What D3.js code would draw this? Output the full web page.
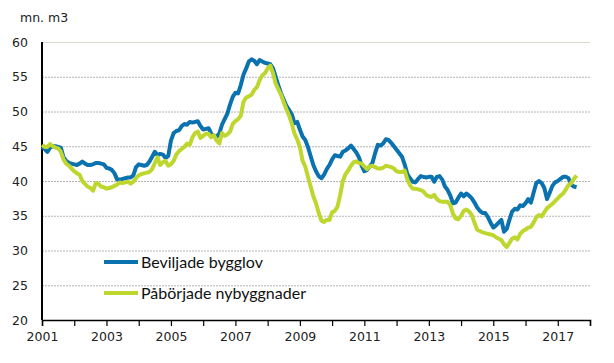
<!DOCTYPE html>
<html>
<head>
<meta charset="utf-8">
<script src="https://cdn.jsdelivr.net/npm/d3@7"></script>
<style>
  body { margin: 0; background: #fff; }
  svg { display: block; }
</style>
</head>
<body>
<script>
// Monthly series, starting January 2001 (mn. m3)
var startYear = 2001;
var beviljade = [
  44.9, 44.6, 44.2, 44.8, 45.0, 45.0, 44.9, 44.8, 43.4, 42.9, 42.6, 42.5,
  42.4, 42.3, 42.5, 42.8, 42.5, 42.3, 42.3, 42.4, 42.6, 42.6, 42.5, 42.4,
  41.9, 41.8, 41.6, 41.1, 40.2, 40.2, 40.3, 40.4, 40.5, 40.5, 40.8, 42.0,
  42.4, 42.3, 42.2, 42.3, 42.8, 43.5, 44.2, 43.7, 43.9, 43.8, 43.3, 43.6,
  45.8, 46.9, 47.2, 47.3, 47.9, 48.2, 48.1, 48.5, 48.4, 48.5, 48.6, 47.9,
  47.4, 47.5, 47.6, 46.8, 46.5, 46.4, 46.8, 48.1, 48.9, 49.7, 51.0, 52.1,
  52.7, 52.6, 53.8, 55.3, 56.2, 57.2, 57.5, 57.3, 56.8, 57.4, 57.2, 57.0,
  56.9, 56.8, 56.2, 55.0, 53.7, 52.6, 51.7, 50.8, 50.2, 49.6, 48.3, 48.5,
  47.4, 46.4, 45.9, 44.9, 43.6, 42.3, 41.4, 40.7, 40.4, 40.9, 41.7, 42.3,
  43.1, 43.7, 43.6, 43.5, 44.2, 44.4, 44.7, 45.1, 44.6, 44.1, 43.4, 42.2,
  41.4, 41.6, 42.1, 42.6, 44.0, 45.2, 45.1, 45.4, 46.0, 45.9, 45.5, 45.0,
  44.5, 44.0, 43.5, 42.4, 41.0, 40.4, 39.9, 39.8, 40.3, 40.7, 40.6, 40.5,
  40.6, 40.6, 39.9, 40.6, 40.7, 40.2, 39.2, 38.7, 37.9, 36.8, 36.9, 37.6,
  38.2, 37.8, 38.2, 37.9, 37.5, 36.9, 36.2, 35.7, 35.4, 35.4, 34.8, 34.0,
  33.3, 33.6, 34.0, 34.4, 32.7, 33.1, 34.4, 35.6, 36.0, 35.9, 36.5, 36.4,
  36.8, 37.4, 36.9, 38.3, 39.7, 40.0, 39.7, 39.0, 37.4, 38.3, 39.3, 39.8,
  40.0, 40.3, 40.6, 40.6, 40.4, 39.5, 39.2, 39.1
];
var paborjade = [
  45.2, 44.9, 44.9, 45.3, 45.0, 44.8, 44.7, 44.2, 43.1, 42.5, 42.2, 41.8,
  41.4, 41.1, 40.9, 40.0, 39.6, 39.2, 39.0, 38.6, 39.7, 39.6, 39.2, 39.1,
  38.9, 39.0, 39.1, 39.3, 39.5, 39.8, 39.7, 39.8, 39.9, 39.6, 39.9, 40.4,
  40.8, 41.0, 41.1, 41.2, 41.3, 41.7, 42.6, 43.4, 42.3, 42.7, 42.9, 42.2,
  42.4, 42.9, 43.8, 44.3, 44.6, 44.9, 45.4, 45.2, 46.3, 46.9, 47.1, 46.2,
  46.5, 46.8, 46.8, 46.3, 46.6, 45.8, 45.4, 46.9, 46.5, 46.7, 47.1, 48.2,
  48.6, 48.9, 49.4, 51.4, 52.0, 52.2, 52.4, 53.1, 53.5, 54.5, 55.2, 55.5,
  56.2, 56.6, 55.5, 54.0, 53.2, 52.4, 51.3, 50.3, 49.4, 48.2, 46.8, 46.0,
  44.9, 42.9, 42.1, 40.6, 39.2, 37.8, 36.8, 35.4, 34.3, 34.1, 34.4, 34.4,
  35.5, 35.7, 36.3, 38.0, 40.0, 41.0, 41.5, 42.2, 42.7, 42.8, 42.6, 42.5,
  42.1, 41.7, 42.1, 42.2, 42.0, 41.8, 41.8, 41.9, 42.2, 42.1, 42.0, 41.8,
  41.4, 41.3, 41.3, 41.5, 40.2, 39.4, 38.9, 38.9, 38.8, 38.7, 38.5, 38.0,
  37.8, 37.7, 38.0, 37.4, 37.1, 37.0, 37.0, 37.0, 36.5, 35.3, 34.6, 34.5,
  35.0, 35.7, 35.9, 35.6, 35.1, 34.0, 33.0, 32.8, 32.6, 32.5, 32.4, 32.3,
  32.2, 31.9, 31.7, 31.5, 30.9, 30.5, 31.1, 31.7, 31.9, 31.6, 32.4, 32.8,
  33.0, 33.3, 33.4, 34.0, 34.8, 35.1, 34.9, 35.5, 36.1, 36.4, 36.7, 37.1,
  37.5, 37.9, 38.2, 38.8, 39.4, 39.7, 40.3, 40.8
];
var seriesNames = ["Beviljade bygglov", "Påbörjade nybyggnader"];
var seriesColors = ["#0a72ae", "#bfd62f"];
var yTicks = [20, 25, 30, 35, 40, 45, 50, 55, 60];
var xTickYears = d3.range(2001, 2019);
var xLabelYears = [2001, 2003, 2005, 2007, 2009, 2011, 2013, 2015, 2017];

var svgWidth = 614;
var svgHeight = 363;
var margin = { top: 42, right: 24, bottom: 43, left: 42 };
var chartWidth = svgWidth - margin.left - margin.right;
var chartHeight = svgHeight - margin.top - margin.bottom;

var svg = d3.select("body").append("svg")
  .attr("width", svgWidth)
  .attr("height", svgHeight);

var g = svg.append("g")
  .attr("transform", `translate(${margin.left}, ${margin.top})`);

var xScale = d3.scaleLinear().domain([2001, 2018]).range([0, chartWidth]);
var yScale = d3.scaleLinear().domain([20, 60]).range([chartHeight, 0]);

var tickFont = "'DejaVu Sans', Verdana, sans-serif";

// gridlines
g.selectAll(".grid").data(yTicks.filter(d => d > 20)).enter()
  .append("line")
  .attr("x1", 0).attr("x2", chartWidth)
  .attr("y1", d => yScale(d) + 0.5).attr("y2", d => yScale(d) + 0.5)
  .attr("stroke", d => d === 60 ? "#d8d8cc" : "#b4b4b4")
  .attr("stroke-width", 1)
  .attr("stroke-dasharray", d => d === 60 ? null : "2,1");

// y axis
var leftAxis = d3.axisLeft(yScale).tickValues(yTicks).tickSize(0).tickPadding(14);
var yAxisG = g.append("g").call(leftAxis);
yAxisG.select(".domain").remove();
yAxisG.selectAll("text")
  .attr("font-family", tickFont).attr("font-size", "12.5px").attr("fill", "#222");
g.append("line")
  .attr("x1", 0).attr("x2", 0).attr("y1", 0).attr("y2", chartHeight)
  .attr("stroke", "#000").attr("stroke-width", 2);

// x axis
var bottomAxis = d3.axisBottom(xScale).tickValues(xTickYears).tickSize(6)
  .tickFormat(d => xLabelYears.indexOf(d) >= 0 ? d : "").tickPadding(6);
var xAxisG = g.append("g")
  .attr("transform", `translate(0, ${chartHeight})`)
  .call(bottomAxis);
xAxisG.select(".domain").attr("stroke", "#000").attr("stroke-width", 1.5);
xAxisG.selectAll(".tick line").attr("stroke", "#000").attr("stroke-width", 1.2);
xAxisG.selectAll("text")
  .attr("font-family", tickFont).attr("font-size", "12.5px").attr("fill", "#222");

// unit label
svg.append("text")
  .attr("x", 20).attr("y", 22)
  .attr("font-family", tickFont).attr("font-size", "12.5px").attr("fill", "#222")
  .text("mn. m3");

// lines
var line = d3.line()
  .x((d, i) => xScale(startYear + i / 12))
  .y(d => yScale(d));

[beviljade, paborjade].forEach(function(data, k) {
  g.append("path")
    .datum(data)
    .attr("fill", "none")
    .attr("stroke", seriesColors[k])
    .attr("stroke-width", 4)
    .attr("stroke-linejoin", "round")
    .attr("d", line);
});

// legend
var legend = svg.append("g").attr("transform", "translate(104, 262)");
seriesNames.forEach(function(name, k) {
  var row = legend.append("g").attr("transform", `translate(0, ${k * 31})`);
  row.append("line")
    .attr("x1", 0).attr("x2", 34)
    .attr("stroke", seriesColors[k]).attr("stroke-width", 4);
  row.append("text")
    .attr("x", 37).attr("y", 6)
    .attr("font-family", "Lato, 'Open Sans', sans-serif").attr("font-size", "16px").attr("fill", "#111")
    .text(name);
});
</script>
</body>
</html>
